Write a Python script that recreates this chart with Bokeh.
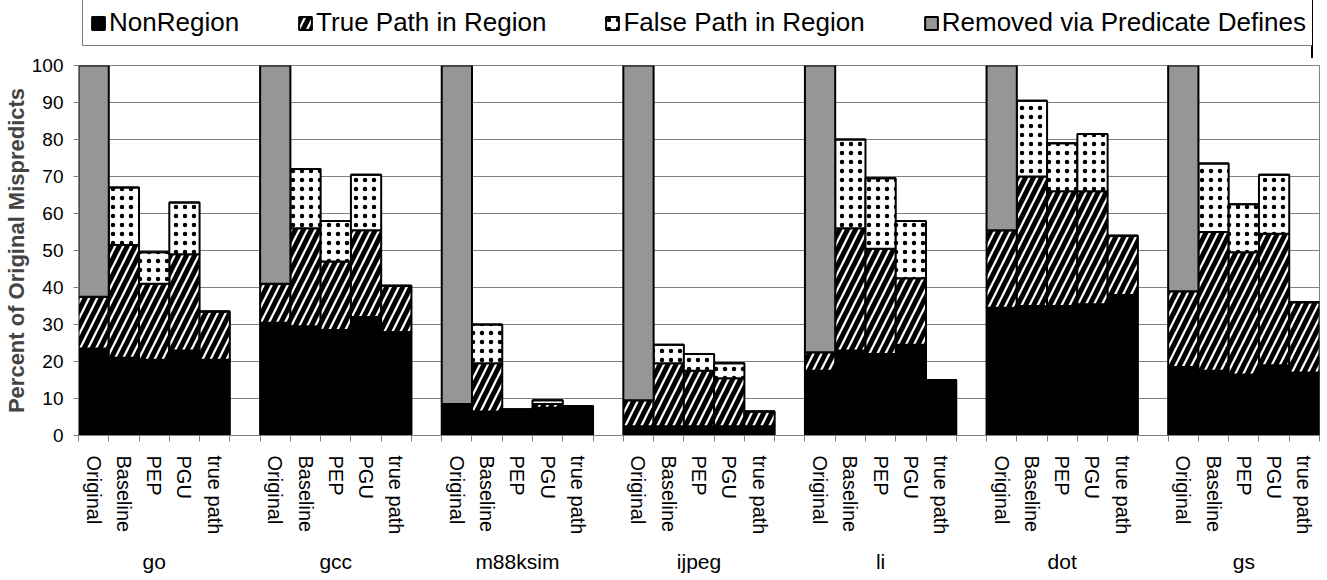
from bokeh.plotting import figure
from bokeh.layouts import column
from bokeh.models import (Range1d, LinearAxis, FixedTicker, SingleIntervalTicker,
                          Legend, LegendItem, ColumnDataSource)
from bokeh.embed import file_html
from bokeh.resources import INLINE

benchmarks = ["go", "gcc", "m88ksim", "ijpeg", "li", "dot", "gs"]
configs = ["Original", "Baseline", "PEP", "PGU", "true path"]
series = ["NonRegion", "True Path in Region", "False Path in Region", "Removed via Predicate Defines"]

# segment heights, per benchmark (Original, Baseline, PEP, PGU, true path)
nonregion = [23.5, 21.0, 20.5, 23.0, 20.5,
             30.5, 29.5, 28.5, 32.0, 28.0,
             8.5, 6.5, 7.0, 7.5, 8.0,
             2.5, 2.5, 2.5, 2.5, 2.5,
             17.5, 23.0, 22.0, 24.5, 15.0,
             34.5, 35.0, 35.0, 35.5, 38.0,
             18.5, 17.5, 16.5, 19.0, 17.0]
true_path = [14.0, 30.5, 20.5, 26.0, 13.0,
             10.5, 26.5, 18.5, 23.5, 12.5,
             0.0, 13.0, 0.0, 1.0, 0.0,
             7.0, 17.0, 15.0, 13.0, 4.0,
             5.0, 33.0, 28.5, 18.0, 0.0,
             21.0, 35.0, 31.0, 30.5, 16.0,
             20.5, 37.5, 33.0, 35.5, 19.0]
false_path = [0.0, 15.5, 8.5, 14.0, 0.0,
              0.0, 16.0, 11.0, 15.0, 0.0,
              0.0, 10.5, 0.0, 1.0, 0.0,
              0.0, 5.0, 4.5, 4.0, 0.0,
              0.0, 24.0, 19.0, 15.5, 0.0,
              0.0, 20.5, 13.0, 15.5, 0.0,
              0.0, 18.5, 13.0, 16.0, 0.0]
removed = [62.5, 0, 0, 0, 0,
           59.0, 0, 0, 0, 0,
           91.5, 0, 0, 0, 0,
           90.5, 0, 0, 0, 0,
           77.5, 0, 0, 0, 0,
           44.5, 0, 0, 0, 0,
           61.0, 0, 0, 0, 0]

FONT = "Liberation Sans"
nb, nc = len(benchmarks), len(configs)
step = nc + 1                      # one empty slot between benchmark groups
centers = [g * step + k for g in range(nb) for k in range(nc)]
n_slots = nb * nc + (nb - 1)

keys = ["nr", "tp", "fp", "rm"]
source = ColumnDataSource(dict(x=centers, nr=nonregion, tp=true_path, fp=false_path, rm=removed))

style = dict(fill_color=["black", "white", "white", "#969696"],
             hatch_pattern=[None, "/", ".", None],
             hatch_color="black", hatch_scale=[16, 16, 9, 16], hatch_weight=[5, 5, 4, 5],
             line_color="black", line_width=2)

p = figure(x_range=Range1d(-0.5, n_slots - 0.5), y_range=Range1d(0, 100),
           frame_width=1241, frame_height=370,
           output_backend="svg", toolbar_location=None, x_axis_location=None,
           min_border_left=71, min_border_right=5, min_border_top=7, min_border_bottom=0,
           background_fill_color="white", border_fill_color="white")
p.outline_line_color = "#808080"
p.outline_line_width = 1
p.xgrid.visible = False

p.vbar_stack(keys, x="x", width=1.0, source=source, **style)

# y axis
yax = p.yaxis[0]
yax.ticker = SingleIntervalTicker(interval=10)
yax.axis_label = "Percent of Original Mispredicts"
yax.axis_label_text_font = FONT
yax.axis_label_text_font_style = "bold"
yax.axis_label_text_font_size = "22px"
yax.axis_label_standoff = 0
yax.major_label_text_font = FONT
yax.major_label_text_font_size = "19px"
yax.major_label_text_color = "black"
yax.major_label_standoff = 10
yax.axis_line_color = "#808080"
yax.major_tick_line_color = "#808080"
yax.major_tick_out = 5
yax.major_tick_in = 0
yax.minor_tick_line_color = None

p.ygrid.grid_line_color = "#808080"
p.ygrid.grid_line_width = 1
p.ygrid.ticker = SingleIntervalTicker(interval=10)

# x axis 1: configuration labels under each bar, tick marks at bar boundaries
bounds = sorted({c + d for c in centers for d in (-0.5, 0.5)})
cfg_axis = LinearAxis(ticker=FixedTicker(ticks=centers, minor_ticks=bounds),
                      major_label_overrides={c: configs[i % nc] for i, c in enumerate(centers)},
                      major_label_orientation="vertical",
                      major_tick_line_color=None, major_tick_out=0, major_tick_in=0,
                      minor_tick_line_color="#808080", minor_tick_out=6, minor_tick_in=0,
                      axis_line_color="#808080",
                      major_label_text_font=FONT, major_label_text_font_size="20px",
                      major_label_text_color="black", major_label_standoff=14)
p.add_layout(cfg_axis, "below")

# x axis 2: benchmark names under each group
group_centers = [g * step + (nc - 1) // 2 for g in range(nb)]
grp_axis = LinearAxis(ticker=FixedTicker(ticks=group_centers),
                      major_label_overrides={c: benchmarks[i] for i, c in enumerate(group_centers)},
                      major_tick_line_color=None, axis_line_color=None, minor_tick_line_color=None,
                      major_tick_out=0, major_tick_in=0,
                      major_label_text_font=FONT, major_label_text_font_size="21px",
                      major_label_text_color="black", major_label_standoff=12)
p.add_layout(grp_axis, "below")

# legend strip above the chart: same series styles; its view range lies away from the bars
lg = figure(width=1317, height=58, x_range=Range1d(-100, -99), y_range=Range1d(0, 1),
            output_backend="svg", toolbar_location=None,
            x_axis_location=None, y_axis_location=None,
            min_border=0, min_border_left=0, min_border_right=0, min_border_top=0, min_border_bottom=0,
            background_fill_color="white", border_fill_color="white")
lg.outline_line_color = None
lg.grid.visible = False
legend_renderers = lg.vbar_stack(keys, x="x", width=1.0, source=source, **style)

legend = Legend(items=[LegendItem(label=s, renderers=[r]) for s, r in zip(series, legend_renderers)],
                orientation="horizontal", location=(4, 12),
                label_text_font=FONT, label_text_font_size="26px", label_text_color="black",
                glyph_width=16, glyph_height=16, label_standoff=3, spacing=58,
                padding=7, margin=0, border_line_color="black", border_line_width=1,
                background_fill_color="white", background_fill_alpha=1.0)
lg.add_layout(legend, "center")

layout = column(lg, p, spacing=0)
open("out.html", "w").write(file_html(layout, INLINE))
